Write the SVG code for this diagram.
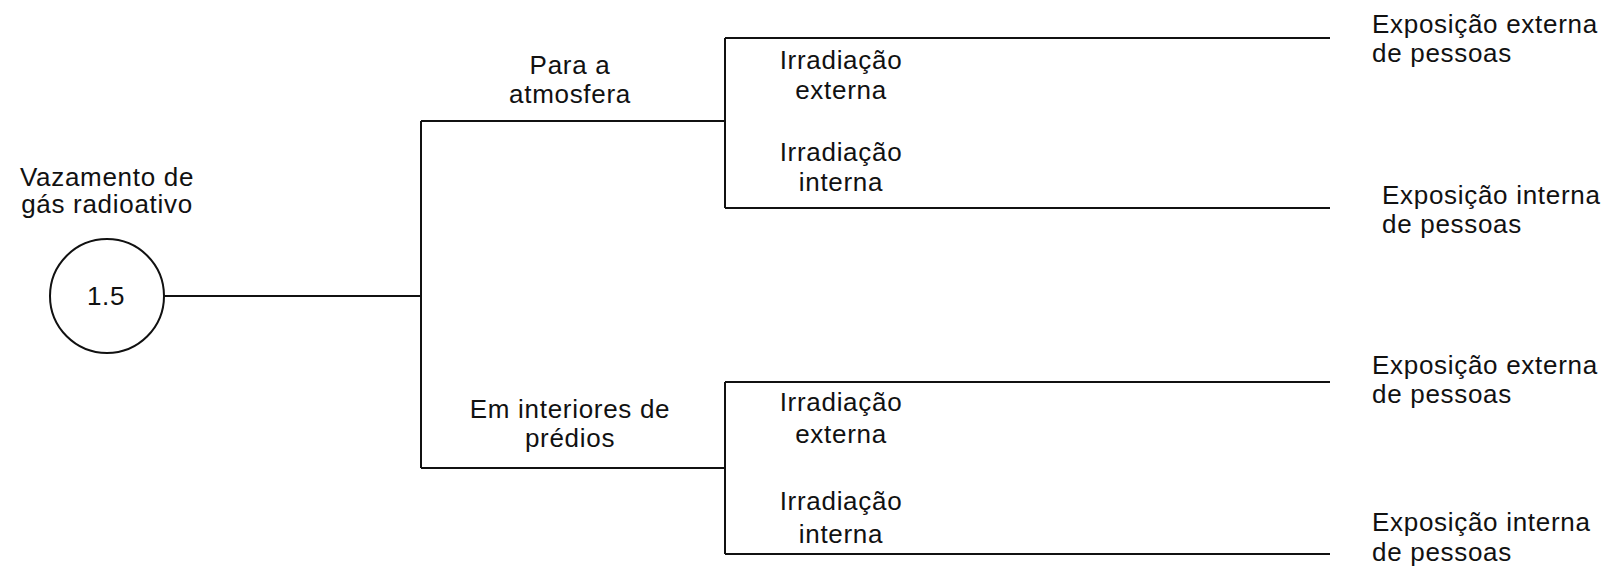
<svg xmlns="http://www.w3.org/2000/svg" width="1612" height="575" viewBox="0 0 1612 575">
<style>
text{font-family:"Liberation Sans",Arial,sans-serif;font-size:26px;letter-spacing:0.7px;fill:#111}
.c{text-anchor:middle}
.ln{stroke:#111;stroke-width:2;fill:none}
</style>
<rect width="1612" height="575" fill="#fff"/>
<g id="connectors">
<path class="ln" d="M164,296H421M421,121V468M421,121H725M421,468H725M725,38V208M725,382V554M725,38H1330M725,208H1330M725,382H1330M725,554H1330"/>
</g>
<g id="source">
<circle class="ln" cx="107" cy="296" r="57"/>
<text class="c" x="106" y="305">1.5</text>
<text class="c" x="107" y="186">Vazamento de</text>
<text class="c" x="107" y="213">gás radioativo</text>
</g>
<g id="atmosfera">
<text class="c" x="570" y="74">Para a</text>
<text class="c" x="570" y="103">atmosfera</text>
</g>
<g id="interiores">
<text class="c" x="570" y="418">Em interiores de</text>
<text class="c" x="570" y="447">prédios</text>
</g>
<g id="irr-ext-1"><text class="c" x="841" y="69">Irradiação</text><text class="c" x="841" y="99">externa</text></g>
<g id="irr-int-1"><text class="c" x="841" y="161">Irradiação</text><text class="c" x="841" y="191">interna</text></g>
<g id="irr-ext-2"><text class="c" x="841" y="411">Irradiação</text><text class="c" x="841" y="443">externa</text></g>
<g id="irr-int-2"><text class="c" x="841" y="510">Irradiação</text><text class="c" x="841" y="543">interna</text></g>
<g id="exp-ext-1"><text x="1372" y="33">Exposição externa</text><text x="1372" y="62">de pessoas</text></g>
<g id="exp-int-1"><text x="1382" y="204">Exposição interna</text><text x="1382" y="233">de pessoas</text></g>
<g id="exp-ext-2"><text x="1372" y="374">Exposição externa</text><text x="1372" y="403">de pessoas</text></g>
<g id="exp-int-2"><text x="1372" y="531">Exposição interna</text><text x="1372" y="561">de pessoas</text></g>
</svg>
